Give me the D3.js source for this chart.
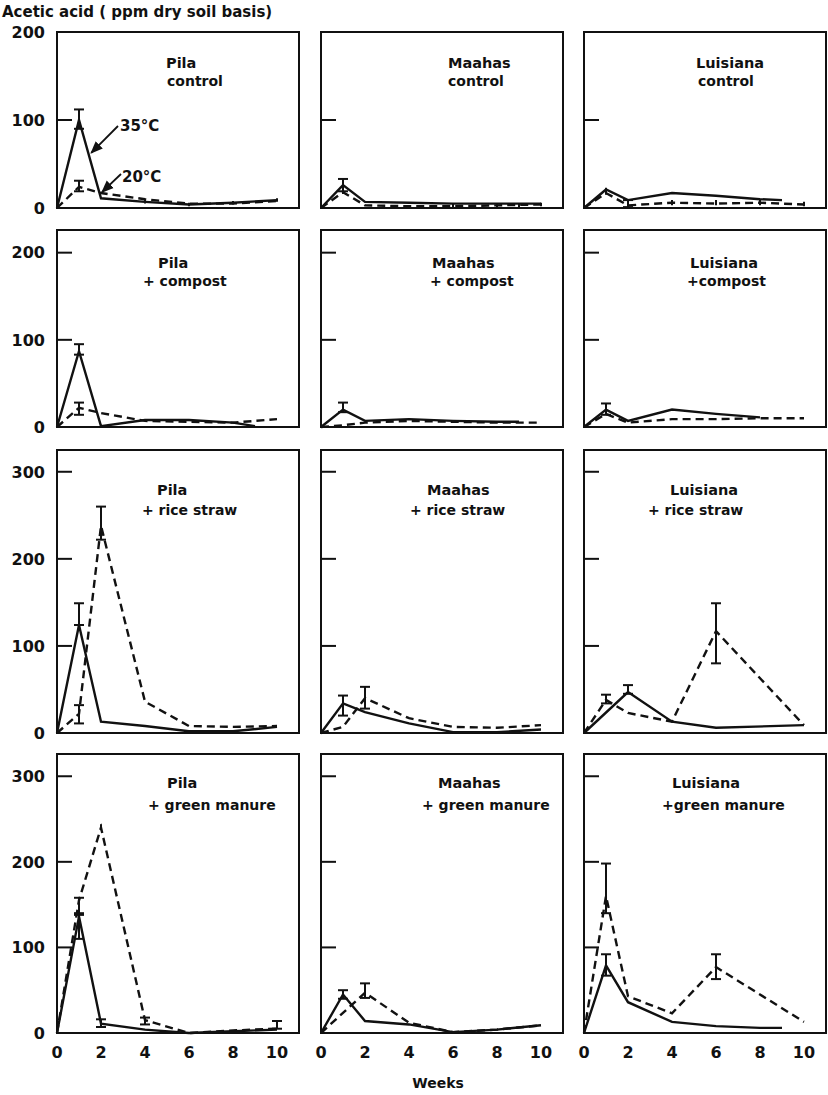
<!DOCTYPE html>
<html>
<head>
<meta charset="utf-8">
<script src="https://cdn.jsdelivr.net/npm/d3@7"></script>
<style>
  body { margin: 0; background: #fff; }
  text { font-family: "DejaVu Sans", sans-serif; fill: #111; }
</style>
</head>
<body>
<div id="chart"></div>
<script>
var svgWidth = 828;
var svgHeight = 1095;

// ---- data ----
var soils = ['Pila', 'Maahas', 'Luisiana'];
var treatLabels = [
  ['control', 'control', 'control'],
  ['+ compost', '+ compost', '+compost'],
  ['+ rice straw', '+ rice straw', '+ rice straw'],
  ['+ green manure', '+ green manure', '+green manure']
];
var yTickLabels = [[0, 100, 200], [0, 100, 200], [0, 100, 200, 300], [0, 100, 200, 300]];
var weekTicks = [0, 2, 4, 6, 8, 10];

var weeks = [0, 1, 2, 4, 6, 8, 10];
var weeksTo9 = [0, 1, 2, 4, 6, 8, 9];
var weeksTo8 = [0, 1, 2, 4, 6, 8];
var weeksSkip1 = [0, 2, 4, 6, 10];
var weeksSkip8 = [0, 1, 2, 4, 6, 10];
var weeksNo1 = [0, 2, 4, 6, 8, 10];

// control
var pilaControl35 = [0, 100, 11, 7, 4, 6, 9];
var pilaControl20 = [0, 24, 17, 10, 5, 5, 8];
var maahasControl35 = [0, 26, 7, 6, 5, 5, 5];
var maahasControl20 = [0, 18, 3, 2, 2, 3, 4];
var luisianaControl35 = [0, 21, 9, 17, 14, 10, 9];
var luisianaControl20 = [0, 17, 3, 6, 5, 6, 4];
// + compost
var pilaCompost35 = [0, 87, 1, 8, 8, 5, 1];
var pilaCompost20 = [0, 22, 16, 7, 6, 5, 9];
var maahasCompost35 = [0, 20, 7, 9, 7, 6, 6];
var maahasCompost20 = [0, 2, 5, 7, 6, 5, 5];
var luisianaCompost35 = [0, 20, 7, 20, 15, 11];
var luisianaCompost20 = [0, 15, 5, 9, 9, 10, 10];
// + rice straw
var pilaStraw35 = [0, 124, 13, 8, 2, 2, 7];
var pilaStraw20 = [0, 22, 238, 36, 8, 7, 8];
var maahasStraw35 = [0, 34, 24, 11, 1, 1, 4];
var maahasStraw20 = [0, 7, 40, 17, 7, 6, 9];
var luisianaStraw35 = [0, 47, 13, 6, 9];
var luisianaStraw20 = [0, 38, 23, 13, 117, 9];
// + green manure
var pilaManure35 = [0, 136, 11, 4, 0, 2, 4];
var pilaManure20 = [0, 155, 240, 15, 0, 3, 5];
var maahasManure35 = [0, 45, 14, 10, 1, 4, 9];
var maahasManure20 = [0, 47, 12, 1, 4, 9];
var luisianaManure35 = [0, 79, 36, 13, 8, 6, 6];
var luisianaManure20 = [0, 160, 43, 23, 77, 13];

// error bars: [week, low, high]
var pilaControlErr35 = [[1, 90, 112], [4, 5, 9], [6, 2, 6], [8, 4, 8], [10, 7, 11]];
var pilaControlErr20 = [[1, 19, 31]];
var maahasControlErr35 = [[1, 19, 33]];
var maahasControlErr20 = [[1, 16, 21], [6, 1, 5], [8, 1, 5], [9, 1, 5], [10, 2, 6]];
var luisianaControlErr35 = [[1, 18, 23]];
var luisianaControlErr20 = [[1, 15, 20], [2, 1, 9], [4, 3, 9], [6, 3, 9], [8, 3, 9], [10, 2, 7]];
var pilaCompostErr35 = [[1, 83, 95]];
var pilaCompostErr20 = [[1, 14, 28]];
var maahasCompostErr35 = [[1, 17, 28]];
var luisianaCompostErr35 = [[1, 14, 27]];
var pilaStrawErr35 = [[1, 124, 149]];
var pilaStrawErr20 = [[1, 11, 32], [2, 222, 260]];
var maahasStrawErr35 = [[1, 20, 43]];
var maahasStrawErr20 = [[2, 28, 53]];
var luisianaStrawErr35 = [[2, 45, 55]];
var luisianaStrawErr20 = [[1, 34, 44], [6, 80, 149]];
var pilaManureErr35 = [[1, 110, 138], [2, 7, 16]];
var pilaManureErr20 = [[1, 140, 158], [2, 237, 244], [4, 10, 18], [10, 5, 14]];
var maahasManureErr35 = [[1, 40, 50]];
var maahasManureErr20 = [[2, 41, 58]];
var luisianaManureErr35 = [[1, 67, 92]];
var luisianaManureErr20 = [[1, 140, 198], [6, 63, 92]];

// table of panels built from the arrays above
var panels = [
  [0, 0, weeks, pilaControl35, weeks, pilaControl20, pilaControlErr35, pilaControlErr20],
  [0, 1, weeks, maahasControl35, weeks, maahasControl20, maahasControlErr35, maahasControlErr20],
  [0, 2, weeksTo9, luisianaControl35, weeks, luisianaControl20, luisianaControlErr35, luisianaControlErr20],
  [1, 0, weeksTo9, pilaCompost35, weeks, pilaCompost20, pilaCompostErr35, pilaCompostErr20],
  [1, 1, weeksTo9, maahasCompost35, weeks, maahasCompost20, maahasCompostErr35, []],
  [1, 2, weeksTo8, luisianaCompost35, weeks, luisianaCompost20, luisianaCompostErr35, []],
  [2, 0, weeks, pilaStraw35, weeks, pilaStraw20, pilaStrawErr35, pilaStrawErr20],
  [2, 1, weeks, maahasStraw35, weeks, maahasStraw20, maahasStrawErr35, maahasStrawErr20],
  [2, 2, weeksSkip1, luisianaStraw35, weeksSkip8, luisianaStraw20, luisianaStrawErr35, luisianaStrawErr20],
  [3, 0, weeks, pilaManure35, weeks, pilaManure20, pilaManureErr35, pilaManureErr20],
  [3, 1, weeks, maahasManure35, weeksNo1, maahasManure20, maahasManureErr35, maahasManureErr20],
  [3, 2, weeksTo9, luisianaManure35, weeksSkip8, luisianaManure20, luisianaManureErr35, luisianaManureErr20]
];

// ---- layout ----
var colX = [57, 321, 584];
var panelW = 242;
var rows = [
  { top: 32, bottom: 208, max: 200 },
  { top: 230, bottom: 427, max: 226 },
  { top: 450, bottom: 733, max: 325 },
  { top: 754, bottom: 1033, max: 326 }
];
// title line offsets from the panel's left edge
var titleDx = [
  [[109, 110], [127, 127], [112, 114]],
  [[101, 86], [111, 109], [106, 103]],
  [[100, 85], [106, 89], [86, 64]],
  [[110, 91], [117, 101], [88, 78]]
];
var titleDy = [[36, 54], [38, 56], [45, 65], [34, 56]];

var svg = d3.select('#chart').append('svg')
  .attr('width', svgWidth)
  .attr('height', svgHeight);

// arrow head for the 35/20 labels
svg.append('defs').append('marker')
  .attr('id', 'arrow')
  .attr('viewBox', '0 0 10 10')
  .attr('refX', 9).attr('refY', 5)
  .attr('markerWidth', 7).attr('markerHeight', 7)
  .attr('orient', 'auto')
  .append('path')
  .attr('d', 'M0,1 L10,5 L0,9 z')
  .attr('fill', '#111');

// y axis title
svg.append('text')
  .attr('x', 2).attr('y', 17)
  .attr('font-size', '15px')
  .attr('font-weight', 'bold')
  .text('Acetic acid ( ppm dry soil basis)');

panels.forEach(function(p) {
  var r = p[0], c = p[1];
  var row = rows[r];
  var x0 = colX[c];

  var x = d3.scaleLinear().domain([0, 11]).range([x0, x0 + panelW]);
  var y = d3.scaleLinear().domain([0, row.max]).range([row.bottom, row.top]);

  var g = svg.append('g');

  // frame
  g.append('rect')
    .attr('x', x0).attr('y', row.top)
    .attr('width', panelW).attr('height', row.bottom - row.top)
    .attr('fill', 'none')
    .attr('stroke', '#111')
    .attr('stroke-width', 2);

  // inward y ticks
  yTickLabels[r].filter(function(t) { return t > 0; }).forEach(function(t) {
    g.append('line')
      .attr('x1', x0).attr('x2', x0 + 15)
      .attr('y1', y(t)).attr('y2', y(t))
      .attr('stroke', '#111').attr('stroke-width', 2);
  });

  // tick labels on the left column
  if (c === 0) {
    g.selectAll('.ylab')
      .data(yTickLabels[r])
      .enter().append('text')
      .attr('x', x0 - 12)
      .attr('y', function(d) { return y(d); })
      .attr('dy', '0.36em')
      .attr('text-anchor', 'end')
      .attr('font-size', '16px')
      .attr('font-weight', 'bold')
      .text(function(d) { return d; });
  }

  // week labels on the bottom row
  if (r === 3) {
    g.selectAll('.xlab')
      .data(weekTicks)
      .enter().append('text')
      .attr('x', function(d) { return x(d); })
      .attr('y', row.bottom + 25)
      .attr('text-anchor', 'middle')
      .attr('font-size', '16px')
      .attr('font-weight', 'bold')
      .text(function(d) { return d; });
  }

  // panel title
  g.append('text')
    .attr('x', x0 + titleDx[r][c][0]).attr('y', row.top + titleDy[r][0])
    .attr('font-size', '14.5px').attr('font-weight', 'bold')
    .text(soils[c]);
  g.append('text')
    .attr('x', x0 + titleDx[r][c][1]).attr('y', row.top + titleDy[r][1])
    .attr('font-size', '14px').attr('font-weight', 'bold')
    .text(treatLabels[r][c]);

  var line = d3.line()
    .x(function(d) { return x(d[0]); })
    .y(function(d) { return y(d[1]); });

  var s35 = d3.zip(p[2], p[3]);
  var s20 = d3.zip(p[4], p[5]);

  g.append('path')
    .attr('d', line(s20))
    .attr('fill', 'none')
    .attr('stroke', '#111')
    .attr('stroke-width', 2.4)
    .attr('stroke-dasharray', '8,5');

  g.append('path')
    .attr('d', line(s35))
    .attr('fill', 'none')
    .attr('stroke', '#111')
    .attr('stroke-width', 2.4);

  // error bars
  var errs = p[6].concat(p[7]);
  errs.forEach(function(e) {
    var cx = x(e[0]);
    var big = y(e[1]) - y(e[2]) > 6;
    g.append('line')
      .attr('x1', cx).attr('x2', cx)
      .attr('y1', y(e[1])).attr('y2', y(e[2]))
      .attr('stroke', '#111').attr('stroke-width', 2);
    if (big) {
      [e[1], e[2]].forEach(function(v) {
        g.append('line')
          .attr('x1', cx - 5).attr('x2', cx + 5)
          .attr('y1', y(v)).attr('y2', y(v))
          .attr('stroke', '#111').attr('stroke-width', 2);
      });
    }
  });

  // temperature labels in the first panel
  if (r === 0 && c === 0) {
    // point on the 35 line between week 1 and 2
    var t = 0.42;
    var ax = x(1 + t), ay = y(s35[1][1] + t * (s35[2][1] - s35[1][1]));
    g.append('line')
      .attr('x1', 118).attr('y1', 126)
      .attr('x2', ax + 3).attr('y2', ay)
      .attr('stroke', '#111').attr('stroke-width', 1.8)
      .attr('marker-end', 'url(#arrow)');
    g.append('text')
      .attr('x', 120).attr('y', 131)
      .attr('font-size', '15px')
      .attr('font-weight', 'bold')
      .text('35°C');

    var bx = x(2), by = y(s20[2][1]);
    g.append('line')
      .attr('x1', 121).attr('y1', 174)
      .attr('x2', bx + 1).attr('y2', by - 1)
      .attr('stroke', '#111').attr('stroke-width', 1.8)
      .attr('marker-end', 'url(#arrow)');
    g.append('text')
      .attr('x', 122).attr('y', 182)
      .attr('font-size', '15px')
      .attr('font-weight', 'bold')
      .text('20°C');
  }
});

// x axis title
svg.append('text')
  .attr('x', 438).attr('y', 1088)
  .attr('text-anchor', 'middle')
  .attr('font-size', '14px')
  .attr('font-weight', 'bold')
  .text('Weeks');
</script>
</body>
</html>
